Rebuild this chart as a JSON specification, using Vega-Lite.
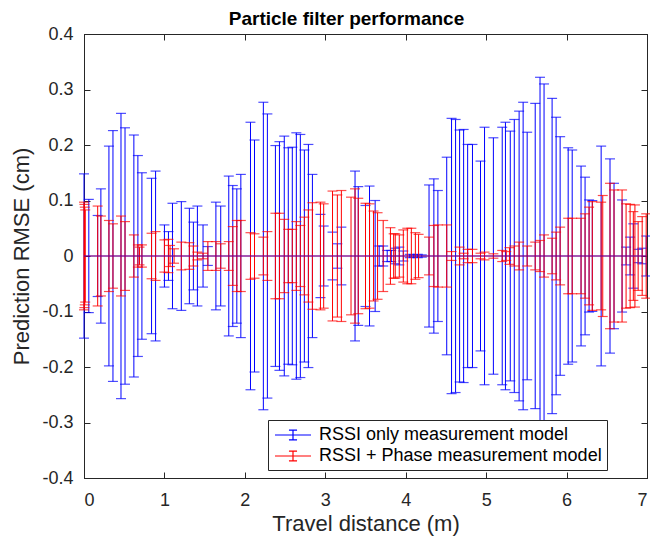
{
"$schema": "https://vega.github.io/schema/vega-lite/v6.json",
"width": 563, "height": 444,
"autosize": {"type": "none"},
"padding": {"left": 84, "top": 34, "right": 3, "bottom": 62},
"background": "white",
"title": {"text": "Particle filter performance", "font": "Liberation Sans", "fontSize": 19, "fontWeight": "bold", "color": "#000000", "anchor": "middle", "dx": -19, "offset": -4},
"datasets": {
"blue": [
{"d":0.00,"lo":-0.148,"hi":0.148,"m":0,"s":"RSSI only measurement model"},
{"d":0.06,"lo":-0.102,"hi":0.102,"m":0,"s":"RSSI only measurement model"},
{"d":0.17,"lo":-0.073,"hi":0.073,"m":0,"s":"RSSI only measurement model"},
{"d":0.21,"lo":-0.121,"hi":0.121,"m":0,"s":"RSSI only measurement model"},
{"d":0.31,"lo":-0.198,"hi":0.198,"m":0,"s":"RSSI only measurement model"},
{"d":0.36,"lo":-0.226,"hi":0.226,"m":0,"s":"RSSI only measurement model"},
{"d":0.46,"lo":-0.257,"hi":0.257,"m":0,"s":"RSSI only measurement model"},
{"d":0.51,"lo":-0.231,"hi":0.231,"m":0,"s":"RSSI only measurement model"},
{"d":0.62,"lo":-0.218,"hi":0.218,"m":0,"s":"RSSI only measurement model"},
{"d":0.67,"lo":-0.181,"hi":0.181,"m":0,"s":"RSSI only measurement model"},
{"d":0.72,"lo":-0.150,"hi":0.150,"m":0,"s":"RSSI only measurement model"},
{"d":0.84,"lo":-0.140,"hi":0.140,"m":0,"s":"RSSI only measurement model"},
{"d":0.89,"lo":-0.153,"hi":0.153,"m":0,"s":"RSSI only measurement model"},
{"d":1.00,"lo":-0.056,"hi":0.056,"m":0,"s":"RSSI only measurement model"},
{"d":1.05,"lo":-0.044,"hi":0.044,"m":0,"s":"RSSI only measurement model"},
{"d":1.10,"lo":-0.095,"hi":0.095,"m":0,"s":"RSSI only measurement model"},
{"d":1.21,"lo":-0.098,"hi":0.098,"m":0,"s":"RSSI only measurement model"},
{"d":1.31,"lo":-0.086,"hi":0.086,"m":0,"s":"RSSI only measurement model"},
{"d":1.36,"lo":-0.061,"hi":0.061,"m":0,"s":"RSSI only measurement model"},
{"d":1.41,"lo":-0.090,"hi":0.090,"m":0,"s":"RSSI only measurement model"},
{"d":1.48,"lo":-0.056,"hi":0.056,"m":0,"s":"RSSI only measurement model"},
{"d":1.54,"lo":-0.017,"hi":0.017,"m":0,"s":"RSSI only measurement model"},
{"d":1.64,"lo":-0.097,"hi":0.097,"m":0,"s":"RSSI only measurement model"},
{"d":1.70,"lo":-0.090,"hi":0.090,"m":0,"s":"RSSI only measurement model"},
{"d":1.80,"lo":-0.144,"hi":0.144,"m":0,"s":"RSSI only measurement model"},
{"d":1.85,"lo":-0.127,"hi":0.127,"m":0,"s":"RSSI only measurement model"},
{"d":1.90,"lo":-0.121,"hi":0.121,"m":0,"s":"RSSI only measurement model"},
{"d":1.95,"lo":-0.147,"hi":0.147,"m":0,"s":"RSSI only measurement model"},
{"d":2.07,"lo":-0.241,"hi":0.241,"m":0,"s":"RSSI only measurement model"},
{"d":2.12,"lo":-0.209,"hi":0.209,"m":0,"s":"RSSI only measurement model"},
{"d":2.23,"lo":-0.277,"hi":0.277,"m":0,"s":"RSSI only measurement model"},
{"d":2.28,"lo":-0.256,"hi":0.256,"m":0,"s":"RSSI only measurement model"},
{"d":2.38,"lo":-0.199,"hi":0.199,"m":0,"s":"RSSI only measurement model"},
{"d":2.43,"lo":-0.206,"hi":0.206,"m":0,"s":"RSSI only measurement model"},
{"d":2.49,"lo":-0.216,"hi":0.216,"m":0,"s":"RSSI only measurement model"},
{"d":2.54,"lo":-0.195,"hi":0.195,"m":0,"s":"RSSI only measurement model"},
{"d":2.59,"lo":-0.196,"hi":0.196,"m":0,"s":"RSSI only measurement model"},
{"d":2.64,"lo":-0.222,"hi":0.222,"m":0,"s":"RSSI only measurement model"},
{"d":2.69,"lo":-0.219,"hi":0.219,"m":0,"s":"RSSI only measurement model"},
{"d":2.74,"lo":-0.191,"hi":0.191,"m":0,"s":"RSSI only measurement model"},
{"d":2.79,"lo":-0.201,"hi":0.201,"m":0,"s":"RSSI only measurement model"},
{"d":2.84,"lo":-0.147,"hi":0.147,"m":0,"s":"RSSI only measurement model"},
{"d":2.94,"lo":-0.075,"hi":0.075,"m":0,"s":"RSSI only measurement model"},
{"d":2.98,"lo":-0.054,"hi":0.054,"m":0,"s":"RSSI only measurement model"},
{"d":3.09,"lo":-0.043,"hi":0.043,"m":0,"s":"RSSI only measurement model"},
{"d":3.15,"lo":-0.022,"hi":0.022,"m":0,"s":"RSSI only measurement model"},
{"d":3.20,"lo":-0.052,"hi":0.052,"m":0,"s":"RSSI only measurement model"},
{"d":3.37,"lo":-0.153,"hi":0.153,"m":0,"s":"RSSI only measurement model"},
{"d":3.41,"lo":-0.125,"hi":0.125,"m":0,"s":"RSSI only measurement model"},
{"d":3.50,"lo":-0.091,"hi":0.091,"m":0,"s":"RSSI only measurement model"},
{"d":3.55,"lo":-0.126,"hi":0.126,"m":0,"s":"RSSI only measurement model"},
{"d":3.62,"lo":-0.100,"hi":0.100,"m":0,"s":"RSSI only measurement model"},
{"d":3.67,"lo":-0.018,"hi":0.018,"m":0,"s":"RSSI only measurement model"},
{"d":3.72,"lo":-0.018,"hi":0.018,"m":0,"s":"RSSI only measurement model"},
{"d":3.77,"lo":-0.010,"hi":0.010,"m":0,"s":"RSSI only measurement model"},
{"d":3.82,"lo":-0.010,"hi":0.010,"m":0,"s":"RSSI only measurement model"},
{"d":3.87,"lo":-0.014,"hi":0.014,"m":0,"s":"RSSI only measurement model"},
{"d":3.92,"lo":-0.016,"hi":0.016,"m":0,"s":"RSSI only measurement model"},
{"d":3.97,"lo":-0.009,"hi":0.009,"m":0,"s":"RSSI only measurement model"},
{"d":4.05,"lo":-0.003,"hi":0.003,"m":0,"s":"RSSI only measurement model"},
{"d":4.10,"lo":-0.002,"hi":0.002,"m":0,"s":"RSSI only measurement model"},
{"d":4.15,"lo":-0.003,"hi":0.003,"m":0,"s":"RSSI only measurement model"},
{"d":4.20,"lo":-0.002,"hi":0.002,"m":0,"s":"RSSI only measurement model"},
{"d":4.29,"lo":-0.128,"hi":0.128,"m":0,"s":"RSSI only measurement model"},
{"d":4.35,"lo":-0.139,"hi":0.139,"m":0,"s":"RSSI only measurement model"},
{"d":4.40,"lo":-0.118,"hi":0.118,"m":0,"s":"RSSI only measurement model"},
{"d":4.51,"lo":-0.178,"hi":0.178,"m":0,"s":"RSSI only measurement model"},
{"d":4.57,"lo":-0.248,"hi":0.248,"m":0,"s":"RSSI only measurement model"},
{"d":4.62,"lo":-0.246,"hi":0.246,"m":0,"s":"RSSI only measurement model"},
{"d":4.67,"lo":-0.227,"hi":0.227,"m":0,"s":"RSSI only measurement model"},
{"d":4.72,"lo":-0.228,"hi":0.228,"m":0,"s":"RSSI only measurement model"},
{"d":4.77,"lo":-0.201,"hi":0.201,"m":0,"s":"RSSI only measurement model"},
{"d":4.83,"lo":-0.201,"hi":0.201,"m":0,"s":"RSSI only measurement model"},
{"d":4.93,"lo":-0.171,"hi":0.171,"m":0,"s":"RSSI only measurement model"},
{"d":4.98,"lo":-0.232,"hi":0.232,"m":0,"s":"RSSI only measurement model"},
{"d":5.09,"lo":-0.213,"hi":0.213,"m":0,"s":"RSSI only measurement model"},
{"d":5.20,"lo":-0.232,"hi":0.232,"m":0,"s":"RSSI only measurement model"},
{"d":5.24,"lo":-0.241,"hi":0.241,"m":0,"s":"RSSI only measurement model"},
{"d":5.30,"lo":-0.225,"hi":0.225,"m":0,"s":"RSSI only measurement model"},
{"d":5.35,"lo":-0.246,"hi":0.246,"m":0,"s":"RSSI only measurement model"},
{"d":5.41,"lo":-0.261,"hi":0.261,"m":0,"s":"RSSI only measurement model"},
{"d":5.46,"lo":-0.277,"hi":0.277,"m":0,"s":"RSSI only measurement model"},
{"d":5.51,"lo":-0.223,"hi":0.223,"m":0,"s":"RSSI only measurement model"},
{"d":5.61,"lo":-0.275,"hi":0.275,"m":0,"s":"RSSI only measurement model"},
{"d":5.67,"lo":-0.322,"hi":0.322,"m":0,"s":"RSSI only measurement model"},
{"d":5.72,"lo":-0.310,"hi":0.310,"m":0,"s":"RSSI only measurement model"},
{"d":5.82,"lo":-0.284,"hi":0.284,"m":0,"s":"RSSI only measurement model"},
{"d":5.87,"lo":-0.250,"hi":0.250,"m":0,"s":"RSSI only measurement model"},
{"d":5.92,"lo":-0.215,"hi":0.215,"m":0,"s":"RSSI only measurement model"},
{"d":6.02,"lo":-0.195,"hi":0.195,"m":0,"s":"RSSI only measurement model"},
{"d":6.07,"lo":-0.191,"hi":0.191,"m":0,"s":"RSSI only measurement model"},
{"d":6.18,"lo":-0.162,"hi":0.162,"m":0,"s":"RSSI only measurement model"},
{"d":6.23,"lo":-0.142,"hi":0.142,"m":0,"s":"RSSI only measurement model"},
{"d":6.28,"lo":-0.101,"hi":0.101,"m":0,"s":"RSSI only measurement model"},
{"d":6.32,"lo":-0.100,"hi":0.100,"m":0,"s":"RSSI only measurement model"},
{"d":6.43,"lo":-0.198,"hi":0.198,"m":0,"s":"RSSI only measurement model"},
{"d":6.54,"lo":-0.175,"hi":0.175,"m":0,"s":"RSSI only measurement model"},
{"d":6.59,"lo":-0.131,"hi":0.131,"m":0,"s":"RSSI only measurement model"},
{"d":6.69,"lo":-0.101,"hi":0.101,"m":0,"s":"RSSI only measurement model"},
{"d":6.74,"lo":-0.016,"hi":0.016,"m":0,"s":"RSSI only measurement model"},
{"d":6.79,"lo":-0.034,"hi":0.034,"m":0,"s":"RSSI only measurement model"},
{"d":6.83,"lo":-0.058,"hi":0.058,"m":0,"s":"RSSI only measurement model"},
{"d":6.89,"lo":-0.012,"hi":0.012,"m":0,"s":"RSSI only measurement model"},
{"d":6.94,"lo":-0.014,"hi":0.014,"m":0,"s":"RSSI only measurement model"},
{"d":6.99,"lo":-0.036,"hi":0.036,"m":0,"s":"RSSI only measurement model"}
],
"red": [
{"d":0.000,"lo":-0.097,"hi":0.097,"m":0,"s":"RSSI + Phase measurement model"},
{"d":0.005,"lo":-0.093,"hi":0.093,"m":0,"s":"RSSI + Phase measurement model"},
{"d":0.010,"lo":-0.088,"hi":0.088,"m":0,"s":"RSSI + Phase measurement model"},
{"d":0.015,"lo":-0.083,"hi":0.083,"m":0,"s":"RSSI + Phase measurement model"},
{"d":0.17,"lo":-0.090,"hi":0.090,"m":0,"s":"RSSI + Phase measurement model"},
{"d":0.21,"lo":-0.072,"hi":0.072,"m":0,"s":"RSSI + Phase measurement model"},
{"d":0.31,"lo":-0.064,"hi":0.064,"m":0,"s":"RSSI + Phase measurement model"},
{"d":0.36,"lo":-0.058,"hi":0.058,"m":0,"s":"RSSI + Phase measurement model"},
{"d":0.46,"lo":-0.072,"hi":0.072,"m":0,"s":"RSSI + Phase measurement model"},
{"d":0.51,"lo":-0.062,"hi":0.062,"m":0,"s":"RSSI + Phase measurement model"},
{"d":0.62,"lo":-0.038,"hi":0.038,"m":0,"s":"RSSI + Phase measurement model"},
{"d":0.67,"lo":-0.020,"hi":0.020,"m":0,"s":"RSSI + Phase measurement model"},
{"d":0.69,"lo":-0.016,"hi":0.016,"m":0,"s":"RSSI + Phase measurement model"},
{"d":0.72,"lo":-0.020,"hi":0.020,"m":0,"s":"RSSI + Phase measurement model"},
{"d":0.84,"lo":-0.041,"hi":0.041,"m":0,"s":"RSSI + Phase measurement model"},
{"d":0.89,"lo":-0.044,"hi":0.044,"m":0,"s":"RSSI + Phase measurement model"},
{"d":1.00,"lo":-0.029,"hi":0.029,"m":0,"s":"RSSI + Phase measurement model"},
{"d":1.05,"lo":-0.030,"hi":0.030,"m":0,"s":"RSSI + Phase measurement model"},
{"d":1.07,"lo":-0.019,"hi":0.019,"m":0,"s":"RSSI + Phase measurement model"},
{"d":1.12,"lo":-0.013,"hi":0.013,"m":0,"s":"RSSI + Phase measurement model"},
{"d":1.21,"lo":-0.025,"hi":0.025,"m":0,"s":"RSSI + Phase measurement model"},
{"d":1.31,"lo":-0.024,"hi":0.024,"m":0,"s":"RSSI + Phase measurement model"},
{"d":1.36,"lo":-0.018,"hi":0.018,"m":0,"s":"RSSI + Phase measurement model"},
{"d":1.41,"lo":-0.007,"hi":0.007,"m":0,"s":"RSSI + Phase measurement model"},
{"d":1.48,"lo":-0.005,"hi":0.005,"m":0,"s":"RSSI + Phase measurement model"},
{"d":1.54,"lo":-0.026,"hi":0.026,"m":0,"s":"RSSI + Phase measurement model"},
{"d":1.64,"lo":-0.026,"hi":0.026,"m":0,"s":"RSSI + Phase measurement model"},
{"d":1.70,"lo":-0.022,"hi":0.022,"m":0,"s":"RSSI + Phase measurement model"},
{"d":1.80,"lo":-0.026,"hi":0.026,"m":0,"s":"RSSI + Phase measurement model"},
{"d":1.85,"lo":-0.053,"hi":0.053,"m":0,"s":"RSSI + Phase measurement model"},
{"d":1.90,"lo":-0.064,"hi":0.064,"m":0,"s":"RSSI + Phase measurement model"},
{"d":1.95,"lo":-0.064,"hi":0.064,"m":0,"s":"RSSI + Phase measurement model"},
{"d":2.07,"lo":-0.042,"hi":0.042,"m":0,"s":"RSSI + Phase measurement model"},
{"d":2.12,"lo":-0.040,"hi":0.040,"m":0,"s":"RSSI + Phase measurement model"},
{"d":2.23,"lo":-0.034,"hi":0.034,"m":0,"s":"RSSI + Phase measurement model"},
{"d":2.28,"lo":-0.044,"hi":0.044,"m":0,"s":"RSSI + Phase measurement model"},
{"d":2.38,"lo":-0.077,"hi":0.077,"m":0,"s":"RSSI + Phase measurement model"},
{"d":2.43,"lo":-0.077,"hi":0.077,"m":0,"s":"RSSI + Phase measurement model"},
{"d":2.49,"lo":-0.066,"hi":0.066,"m":0,"s":"RSSI + Phase measurement model"},
{"d":2.54,"lo":-0.048,"hi":0.048,"m":0,"s":"RSSI + Phase measurement model"},
{"d":2.59,"lo":-0.048,"hi":0.048,"m":0,"s":"RSSI + Phase measurement model"},
{"d":2.64,"lo":-0.062,"hi":0.062,"m":0,"s":"RSSI + Phase measurement model"},
{"d":2.69,"lo":-0.055,"hi":0.055,"m":0,"s":"RSSI + Phase measurement model"},
{"d":2.74,"lo":-0.070,"hi":0.070,"m":0,"s":"RSSI + Phase measurement model"},
{"d":2.79,"lo":-0.083,"hi":0.083,"m":0,"s":"RSSI + Phase measurement model"},
{"d":2.84,"lo":-0.096,"hi":0.096,"m":0,"s":"RSSI + Phase measurement model"},
{"d":2.94,"lo":-0.097,"hi":0.097,"m":0,"s":"RSSI + Phase measurement model"},
{"d":2.98,"lo":-0.094,"hi":0.094,"m":0,"s":"RSSI + Phase measurement model"},
{"d":3.09,"lo":-0.117,"hi":0.117,"m":0,"s":"RSSI + Phase measurement model"},
{"d":3.15,"lo":-0.110,"hi":0.110,"m":0,"s":"RSSI + Phase measurement model"},
{"d":3.20,"lo":-0.118,"hi":0.118,"m":0,"s":"RSSI + Phase measurement model"},
{"d":3.32,"lo":-0.106,"hi":0.106,"m":0,"s":"RSSI + Phase measurement model"},
{"d":3.37,"lo":-0.121,"hi":0.121,"m":0,"s":"RSSI + Phase measurement model"},
{"d":3.41,"lo":-0.104,"hi":0.104,"m":0,"s":"RSSI + Phase measurement model"},
{"d":3.50,"lo":-0.095,"hi":0.095,"m":0,"s":"RSSI + Phase measurement model"},
{"d":3.55,"lo":-0.094,"hi":0.094,"m":0,"s":"RSSI + Phase measurement model"},
{"d":3.60,"lo":-0.081,"hi":0.081,"m":0,"s":"RSSI + Phase measurement model"},
{"d":3.65,"lo":-0.078,"hi":0.078,"m":0,"s":"RSSI + Phase measurement model"},
{"d":3.72,"lo":-0.064,"hi":0.064,"m":0,"s":"RSSI + Phase measurement model"},
{"d":3.81,"lo":-0.051,"hi":0.051,"m":0,"s":"RSSI + Phase measurement model"},
{"d":3.85,"lo":-0.040,"hi":0.040,"m":0,"s":"RSSI + Phase measurement model"},
{"d":3.87,"lo":-0.040,"hi":0.040,"m":0,"s":"RSSI + Phase measurement model"},
{"d":3.92,"lo":-0.038,"hi":0.038,"m":0,"s":"RSSI + Phase measurement model"},
{"d":3.97,"lo":-0.047,"hi":0.047,"m":0,"s":"RSSI + Phase measurement model"},
{"d":4.02,"lo":-0.050,"hi":0.050,"m":0,"s":"RSSI + Phase measurement model"},
{"d":4.07,"lo":-0.050,"hi":0.050,"m":0,"s":"RSSI + Phase measurement model"},
{"d":4.12,"lo":-0.042,"hi":0.042,"m":0,"s":"RSSI + Phase measurement model"},
{"d":4.16,"lo":-0.039,"hi":0.039,"m":0,"s":"RSSI + Phase measurement model"},
{"d":4.29,"lo":-0.034,"hi":0.034,"m":0,"s":"RSSI + Phase measurement model"},
{"d":4.35,"lo":-0.055,"hi":0.055,"m":0,"s":"RSSI + Phase measurement model"},
{"d":4.40,"lo":-0.056,"hi":0.056,"m":0,"s":"RSSI + Phase measurement model"},
{"d":4.51,"lo":-0.056,"hi":0.056,"m":0,"s":"RSSI + Phase measurement model"},
{"d":4.57,"lo":-0.008,"hi":0.008,"m":0,"s":"RSSI + Phase measurement model"},
{"d":4.67,"lo":-0.016,"hi":0.016,"m":0,"s":"RSSI + Phase measurement model"},
{"d":4.72,"lo":-0.005,"hi":0.005,"m":0,"s":"RSSI + Phase measurement model"},
{"d":4.77,"lo":-0.012,"hi":0.012,"m":0,"s":"RSSI + Phase measurement model"},
{"d":4.83,"lo":-0.012,"hi":0.012,"m":0,"s":"RSSI + Phase measurement model"},
{"d":4.93,"lo":-0.005,"hi":0.005,"m":0,"s":"RSSI + Phase measurement model"},
{"d":4.98,"lo":-0.007,"hi":0.007,"m":0,"s":"RSSI + Phase measurement model"},
{"d":5.09,"lo":-0.004,"hi":0.004,"m":0,"s":"RSSI + Phase measurement model"},
{"d":5.20,"lo":-0.010,"hi":0.010,"m":0,"s":"RSSI + Phase measurement model"},
{"d":5.25,"lo":-0.008,"hi":0.008,"m":0,"s":"RSSI + Phase measurement model"},
{"d":5.29,"lo":-0.015,"hi":0.015,"m":0,"s":"RSSI + Phase measurement model"},
{"d":5.35,"lo":-0.018,"hi":0.018,"m":0,"s":"RSSI + Phase measurement model"},
{"d":5.41,"lo":-0.025,"hi":0.025,"m":0,"s":"RSSI + Phase measurement model"},
{"d":5.51,"lo":-0.018,"hi":0.018,"m":0,"s":"RSSI + Phase measurement model"},
{"d":5.61,"lo":-0.025,"hi":0.025,"m":0,"s":"RSSI + Phase measurement model"},
{"d":5.67,"lo":-0.028,"hi":0.028,"m":0,"s":"RSSI + Phase measurement model"},
{"d":5.72,"lo":-0.038,"hi":0.038,"m":0,"s":"RSSI + Phase measurement model"},
{"d":5.82,"lo":-0.032,"hi":0.032,"m":0,"s":"RSSI + Phase measurement model"},
{"d":5.87,"lo":-0.043,"hi":0.043,"m":0,"s":"RSSI + Phase measurement model"},
{"d":5.92,"lo":-0.052,"hi":0.052,"m":0,"s":"RSSI + Phase measurement model"},
{"d":6.02,"lo":-0.068,"hi":0.068,"m":0,"s":"RSSI + Phase measurement model"},
{"d":6.07,"lo":-0.068,"hi":0.068,"m":0,"s":"RSSI + Phase measurement model"},
{"d":6.18,"lo":-0.068,"hi":0.068,"m":0,"s":"RSSI + Phase measurement model"},
{"d":6.23,"lo":-0.076,"hi":0.076,"m":0,"s":"RSSI + Phase measurement model"},
{"d":6.28,"lo":-0.088,"hi":0.088,"m":0,"s":"RSSI + Phase measurement model"},
{"d":6.32,"lo":-0.098,"hi":0.098,"m":0,"s":"RSSI + Phase measurement model"},
{"d":6.43,"lo":-0.097,"hi":0.097,"m":0,"s":"RSSI + Phase measurement model"},
{"d":6.45,"lo":-0.109,"hi":0.109,"m":0,"s":"RSSI + Phase measurement model"},
{"d":6.54,"lo":-0.131,"hi":0.131,"m":0,"s":"RSSI + Phase measurement model"},
{"d":6.59,"lo":-0.119,"hi":0.119,"m":0,"s":"RSSI + Phase measurement model"},
{"d":6.69,"lo":-0.119,"hi":0.119,"m":0,"s":"RSSI + Phase measurement model"},
{"d":6.74,"lo":-0.094,"hi":0.094,"m":0,"s":"RSSI + Phase measurement model"},
{"d":6.79,"lo":-0.093,"hi":0.093,"m":0,"s":"RSSI + Phase measurement model"},
{"d":6.83,"lo":-0.080,"hi":0.080,"m":0,"s":"RSSI + Phase measurement model"},
{"d":6.85,"lo":-0.092,"hi":0.092,"m":0,"s":"RSSI + Phase measurement model"},
{"d":6.89,"lo":-0.062,"hi":0.062,"m":0,"s":"RSSI + Phase measurement model"},
{"d":6.94,"lo":-0.071,"hi":0.071,"m":0,"s":"RSSI + Phase measurement model"},
{"d":6.99,"lo":-0.076,"hi":0.076,"m":0,"s":"RSSI + Phase measurement model"}
]
},
"layer": [
{
"encoding": {
"x": {"field": "d", "type": "quantitative", "scale": {"domain": [0, 7], "nice": false, "zero": false}, "title": "Travel distance (m)", "axis": {"values": [0,1,2,3,4,5,6,7]}}
},
"layer": [
{"data": {"name": "blue"}, "mark": {"type": "rule", "strokeWidth": 1, "color": "#0000ff"}, "encoding": {"y": {"field": "lo", "type": "quantitative", "scale": {"domain": [-0.4, 0.4], "nice": false}, "title": "Prediction RMSE (cm)", "axis": {"values": [-0.4,-0.3,-0.2,-0.1,0,0.1,0.2,0.3,0.4], "labelExpr": "'' + round(datum.value*10)/10"}}, "y2": {"field": "hi"}}},
{"data": {"name": "blue"}, "mark": {"type": "tick", "orient": "horizontal", "size": 10, "thickness": 1.2, "color": "#0000ff"}, "encoding": {"y": {"field": "hi", "type": "quantitative", "title": "Prediction RMSE (cm)"}}},
{"data": {"name": "blue"}, "mark": {"type": "tick", "orient": "horizontal", "size": 10, "thickness": 1.2, "color": "#0000ff"}, "encoding": {"y": {"field": "lo", "type": "quantitative", "title": "Prediction RMSE (cm)"}}},
{"data": {"name": "red"}, "mark": {"type": "rule", "strokeWidth": 1, "color": "#ff0000"}, "encoding": {"y": {"field": "lo", "type": "quantitative", "title": "Prediction RMSE (cm)"}, "y2": {"field": "hi"}}},
{"data": {"name": "red"}, "mark": {"type": "tick", "orient": "horizontal", "size": 10, "thickness": 1.2, "color": "#ff0000"}, "encoding": {"y": {"field": "hi", "type": "quantitative", "title": "Prediction RMSE (cm)"}}},
{"data": {"name": "red"}, "mark": {"type": "tick", "orient": "horizontal", "size": 10, "thickness": 1.2, "color": "#ff0000"}, "encoding": {"y": {"field": "lo", "type": "quantitative", "title": "Prediction RMSE (cm)"}}}
]
},
{
"encoding": {
"x": {"field": "d", "type": "quantitative", "title": null, "axis": {"values": [0,1,2,3,4,5,6,7], "labels": false, "title": null}},
"y": {"field": "m", "type": "quantitative", "title": null, "axis": {"values": [-0.4,-0.3,-0.2,-0.1,0,0.1,0.2,0.3,0.4], "labels": false, "title": null}},
"color": {"field": "s", "type": "nominal", "scale": {"domain": ["RSSI only measurement model", "RSSI + Phase measurement model"], "range": ["#0000ff", "#ff0000"]}, "legend": {"title": null, "encode": {"symbols": {"update": {"fill": {"value": "transparent"}, "stroke": {"scale": "color", "field": "value"}, "strokeWidth": {"value": 1.2}, "opacity": {"value": 1}}}}}}
},
"layer": [
{"data": {"name": "blue"}, "mark": {"type": "line", "strokeWidth": 1.2}},
{"data": {"name": "red"}, "mark": {"type": "line", "strokeWidth": 1.2, "opacity": 0.6}}
]
}
],
"resolve": {"axis": {"x": "independent", "y": "independent"}},
"config": {
"view": {"stroke": "#262626", "strokeWidth": 1},
"axis": {"domainColor": "#262626", "tickColor": "#262626", "labelColor": "#262626", "titleColor": "#262626", "labelFont": "Liberation Sans", "titleFont": "Liberation Sans", "labelFontSize": 18, "titleFontSize": 22, "titleFontWeight": "normal", "grid": false, "tickSize": -6, "domainWidth": 1, "tickWidth": 1},
"axisX": {"labelPadding": 19, "titlePadding": 4, "labelAngle": 0},
"axisY": {"labelPadding": 17, "titlePadding": 8},
"legend": {"orient": "none", "legendX": 184, "legendY": 386, "fillColor": "white", "strokeColor": "#262626", "padding": 5, "labelFont": "Liberation Sans", "labelFontSize": 18, "labelColor": "#000000", "labelLimit": 400, "symbolType": "M-2,0H2M0,-0.55V0.55M-0.45,-0.55H0.45M-0.45,0.55H0.45", "symbolSize": 324, "symbolStrokeWidth": 1.2, "symbolOffset": 10, "labelOffset": 16, "rowPadding": 2}
}
}
